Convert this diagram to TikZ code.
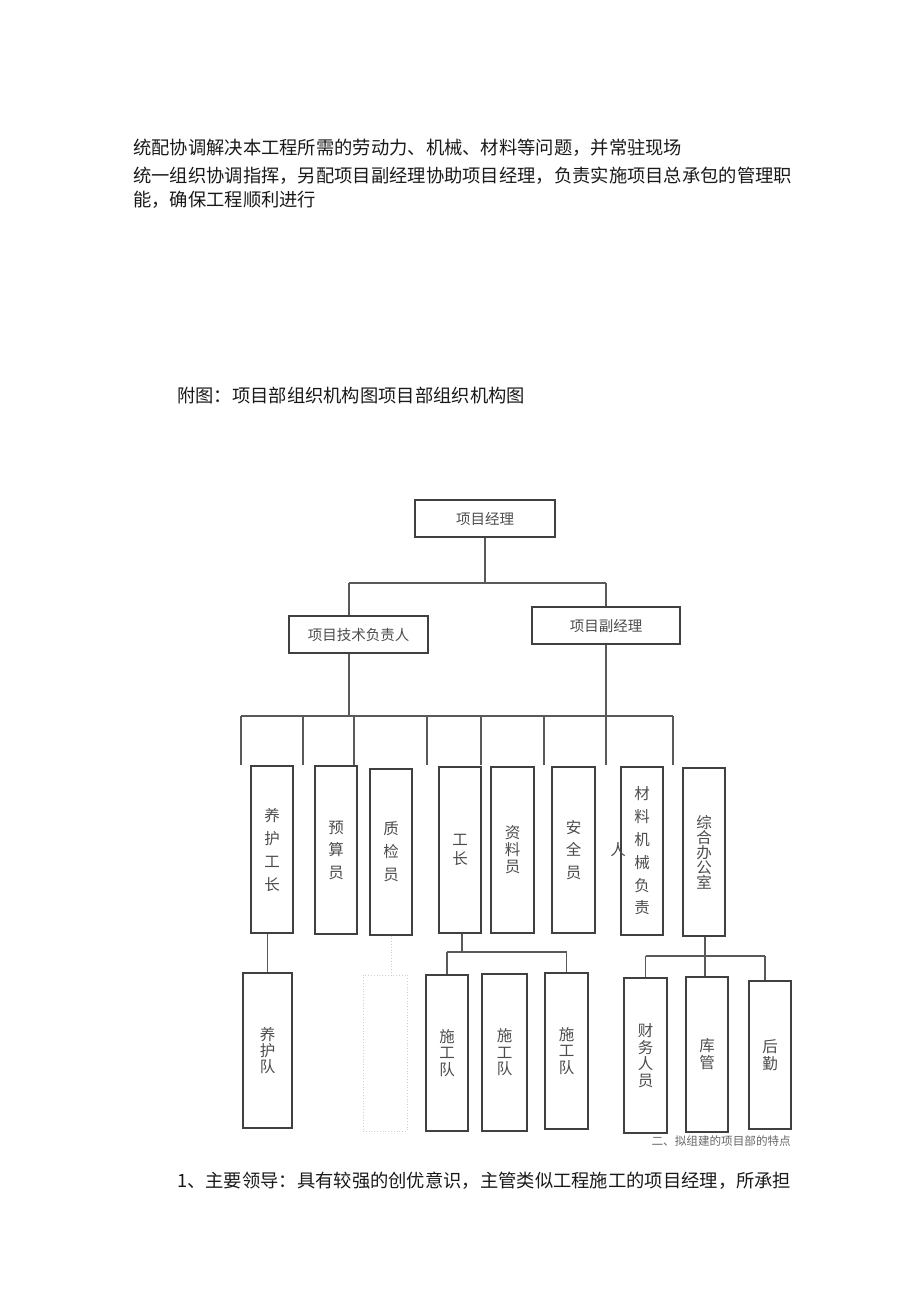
\documentclass[tikz,border=0pt]{standalone}
\usepackage{fontspec}
\newfontfamily\cjk{Noto Sans CJK SC}
\usetikzlibrary{positioning}

\begin{document}
\begin{tikzpicture}[
    x=1pt, y=-1pt,
    bodytext/.style={anchor=west, inner sep=0pt, font=\cjk\fontsize{18.3}{24}\selectfont, text=black!90},
    box/.style={
        rectangle,
        draw=black!75,
        line width=1.2pt,
        inner sep=0pt,
        text=black!70,
        align=center
    },
    hbox/.style={box, font=\cjk\fontsize{14.5}{17}\selectfont},
    vbox/.style={box, font=\cjk\fontsize{15.5}{#1}\selectfont},
    link/.style={draw=black!65, line width=1.3pt},
    ghost/.style={draw=red!15!gray!35, dotted, line width=0.8pt}
]
\useasboundingbox (0,0) rectangle (920,1303);

% --- Texto superior ---
\node[bodytext] (l1) at (133,148) {统配协调解决本工程所需的劳动力、机械、材料等问题，并常驻现场};
\node[bodytext] (l2) at (133,176) {统一组织协调指挥，另配项目副经理协助项目经理，负责实施项目总承包的管理职};
\node[bodytext] (l3) at (133,200) {能，确保工程顺利进行};
\node[bodytext] (fig) at (177,396) {附图：项目部组织机构图项目部组织机构图};

% --- Nivel superior ---
\node[hbox, minimum width=140, minimum height=37] (pm) at (485,518.5) {项目经理};
\node[hbox, minimum width=139, minimum height=37] (tech) at (358.5,634.5) {项目技术负责人};
\node[hbox, minimum width=148, minimum height=37] (dpm) at (606,625.5) {项目副经理};

\coordinate (b1l) at (349,583);
\coordinate (b1r) at (606,583);
\coordinate (b2l) at (241,716);
\coordinate (b2r) at (673,716);

\draw[link] (pm.south) -- (pm.south |- b1l);
\draw[link] (b1l) -- (b1r);
\draw[link] (b1l) -- (b1l |- tech.north);
\draw[link] (b1r) -- (b1r |- dpm.north);
\draw[link] (b1l |- tech.south) -- (b1l |- b2l);
\draw[link] (dpm.south) -- (dpm.south |- b2l);
\draw[link] (b2l) -- (b2r);
\foreach \x [count=\i] in {241,303,354,427,481,544,606,673} {
    \coordinate (t\i) at (\x,716);
    \coordinate (d\i) at (\x,765);
    \draw[link] (t\i) -- (d\i);
}

% --- Fila central ---
\node[vbox=23, minimum width=42, minimum height=167] (yhgz) at (272,849.5) {养\\护\\工\\长};
\node[vbox=22.5, minimum width=42, minimum height=168] (ysy) at (336,850) {预\\算\\员};
\node[vbox=23, minimum width=42, minimum height=166] (zjy) at (391,852) {质\\检\\员};
\node[vbox=19, minimum width=42, minimum height=166] (gz) at (460,850) {工\\长};
\node[vbox=17, minimum width=43, minimum height=166] (zly) at (512.5,850) {资\\料\\员};
\node[vbox=22.5, minimum width=43, minimum height=166] (aqy) at (573.5,850) {安\\全\\员};
\node[vbox=22.8, minimum width=42, minimum height=168] (clfz) at (642,851) {材\\料\\机\\械\\负\\责};
\node[vbox=15, minimum width=42, minimum height=168] (zhbgs) at (704,852) {综\\合\\办\\公\\室};
\node[font=\cjk\fontsize{15.5}{17}\selectfont, text=black!70, inner sep=0pt] (ren) at (618,850) {人};

% --- Fila inferior ---
\node[vbox=16, minimum width=49, minimum height=155] (yhd) at (267.5,1050.5) {养\\护\\队};
\node[ghost, minimum width=44, minimum height=156] (blank) at (385,1053) {};
\node[vbox=16.5, minimum width=42, minimum height=156] (sgd1) at (447,1053) {施\\工\\队};
\node[vbox=16.5, minimum width=45, minimum height=157] (sgd2) at (504.5,1052.5) {施\\工\\队};
\node[vbox=16.5, minimum width=43, minimum height=156] (sgd3) at (566.5,1051) {施\\工\\队};
\node[vbox=16.5, minimum width=43, minimum height=155] (cwry) at (645.5,1055.5) {财\\务\\人\\员};
\node[vbox=17, minimum width=42, minimum height=155] (kg) at (707,1054.5) {库\\管};
\node[vbox=17, minimum width=42, minimum height=148] (hq) at (770,1055) {后\\勤};

\coordinate (b3) at (462,952);
\coordinate (b4) at (705,956);

\draw[link] (yhd.north) -- (yhd.north |- yhgz.south);
\draw[ghost] (zjy.south) -- (zjy.south |- blank.north);
\draw[link] (b3 |- gz.south) -- (b3);
\draw[link] (sgd1.north |- b3) -- (sgd3.north |- b3);
\draw[link] (sgd1.north |- b3) -- (sgd1.north);
\draw[link] (sgd3.north |- b3) -- (sgd3.north);
\draw[link] (b4 |- zhbgs.south) -- (b4 |- kg.north);
\draw[link] (cwry.north |- b4) -- ([xshift=-5]hq.north |- b4);
\draw[link] (cwry.north |- b4) -- (cwry.north);
\draw[link] ([xshift=-5]hq.north |- b4) -- ([xshift=-5]hq.north);

% --- Texto inferior ---
\node[anchor=east, inner sep=0pt, font=\cjk\fontsize{11.6}{13}\selectfont, text=black!60] (note) at (791,1141) {二、拟组建的项目部的特点};
\node[bodytext] (l4) at (177,1181) {1、主要领导：具有较强的创优意识，主管类似工程施工的项目经理，所承担};

\end{tikzpicture}
\end{document}
